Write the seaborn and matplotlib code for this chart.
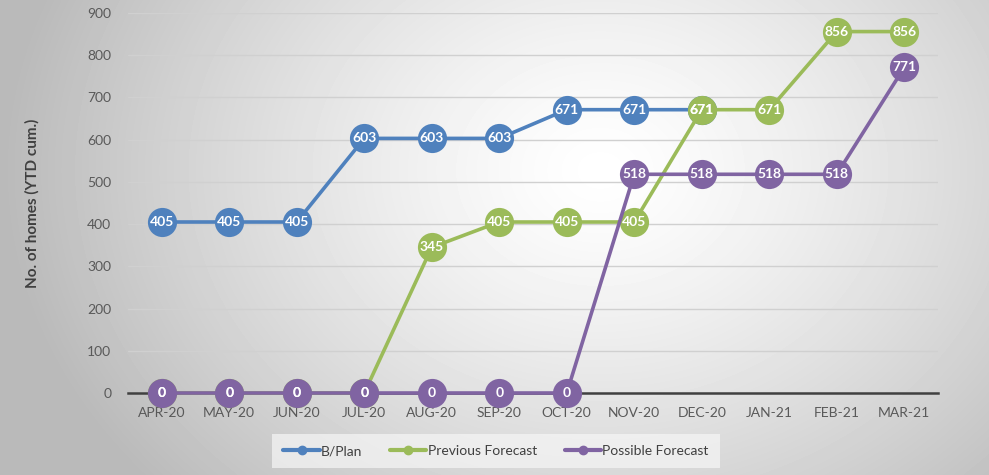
import matplotlib

matplotlib.use("Agg")
import matplotlib.pyplot as plt  # noqa: E402
import numpy as np  # noqa: E402
import pandas as pd  # noqa: E402
import seaborn as sns  # noqa: E402
from matplotlib.lines import Line2D  # noqa: E402

months = ["APR-20", "MAY-20", "JUN-20", "JUL-20", "AUG-20", "SEP-20",
          "OCT-20", "NOV-20", "DEC-20", "JAN-21", "FEB-21", "MAR-21"]
bplan = [405, 405, 405, 603, 603, 603, 671, 671, 671]
previous = [0, 0, 0, 0, 345, 405, 405, 405, 671, 671, 856, 856]
possible = [0, 0, 0, 0, 0, 0, 0, 518, 518, 518, 518, 771]

series = [("B/Plan", bplan, "#4F81BD"),
          ("Previous Forecast", previous, "#9BBB59"),
          ("Possible Forecast", possible, "#8064A2")]

sns.set_theme(style="white")
plt.rcParams["font.family"] = ["Lato", "DejaVu Sans"]

W, H = 989, 475
fig = plt.figure(figsize=(W / 100, H / 100), dpi=100)

# radial gradient background like the Excel chart area
bg = fig.add_axes([0, 0, 1, 1], zorder=-5)
yy, xx = np.mgrid[0:H, 0:W]
r = np.sqrt(((xx - 600) / W) ** 2 + ((yy - 170) / H * 0.6) ** 2)
shade = 1 - 0.27 * np.clip(r / 0.6, 0, 1) ** 1.3
bg.imshow(shade, cmap="gray", vmin=0, vmax=1, aspect="auto",
          extent=[0, 1, 0, 1])
bg.set_axis_off()

ax = fig.add_axes([128 / W, 1 - 393 / H, 810 / W, 380 / H])
ax.patch.set_alpha(0)

pos = {m: i for i, m in enumerate(months)}
for name, vals, color in series:
    df = pd.DataFrame({"x": [pos[m] for m in months[:len(vals)]], "y": vals})
    sns.lineplot(data=df, x="x", y="y", ax=ax, color=color, linewidth=2.6,
                 marker="o", markersize=21, markeredgewidth=0, sort=False,
                 clip_on=False, zorder=3)
    for xi, v in zip(df["x"], df["y"]):
        ax.text(xi, v, f"{v}", ha="center", va="center", color="white",
                fontsize=10, fontweight="bold", zorder=10, clip_on=False)

ax.set_xlim(-0.5, len(months) - 0.5)
ax.set_ylim(0, 900)
ax.set_yticks(range(0, 901, 100))
ax.set_xticks(range(len(months)))
ax.set_xticklabels(months)
ax.yaxis.grid(True, color="#d0d0d0", linewidth=1)
ax.set_axisbelow(True)
for s in ["top", "right", "left"]:
    ax.spines[s].set_visible(False)
ax.spines["bottom"].set_color("#404040")
ax.spines["bottom"].set_linewidth(1.8)
ax.spines["bottom"].set_zorder(1)
ax.tick_params(axis="both", length=0, labelsize=10, labelcolor="#595959")
ax.tick_params(axis="x", pad=10)
ax.tick_params(axis="y", pad=12)
ax.set_xlabel("")
ax.set_ylabel("No. of homes (YTD cum.)", fontsize=11, fontweight="bold",
              color="#404040", labelpad=34)

handles = [Line2D([0], [0], color=c, linewidth=3, marker="o", markersize=6)
           for _, _, c in series]
leg = fig.legend(handles, [n for n, _, _ in series], loc="center",
                 bbox_to_anchor=(496 / W, 1 - 451 / H), ncol=3, fontsize=10,
                 frameon=True, handlelength=2.6, handletextpad=0.1,
                 columnspacing=2.0, borderpad=0.8, fancybox=False)
leg.get_frame().set_facecolor("#f6f6f6")
leg.get_frame().set_alpha(0.7)
leg.get_frame().set_edgecolor("none")
for t in leg.get_texts():
    t.set_color("#404040")

fig.savefig("out.png", dpi=100)
